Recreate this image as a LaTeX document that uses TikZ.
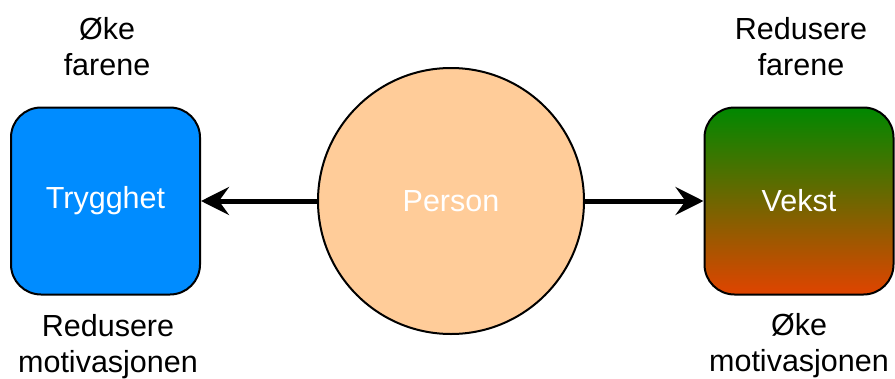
\documentclass[tikz,border=0pt]{standalone}
\usepackage{fontspec}
\setmainfont{Liberation Sans}
\usetikzlibrary{arrows.meta}

\definecolor{tryggblue}{RGB}{0,140,255}
\definecolor{personfill}{RGB}{255,204,153}
\definecolor{vekstgreen}{RGB}{0,136,0}
\definecolor{vekstred}{RGB}{224,68,0}

\tikzset{
  box/.style={draw, line width=2pt, rounded corners=30pt, minimum width=189pt,
    minimum height=187pt, text=white, inner sep=0pt},
  lbl/.style={align=center, anchor=base, inner sep=0pt},
}

\begin{document}
\begin{tikzpicture}[x=1pt, y=-1pt, >={Stealth[length=28pt, width=28pt, inset=10pt]},
    font=\fontsize{30.5}{36}\selectfont]
    \useasboundingbox (0,0) rectangle (895,378);
    % the three shapes
    \node[circle, draw, line width=2pt, fill=personfill, text=white,
      minimum size=266pt, inner sep=0pt] (person) at (451,201) {Person};
    \node[box, fill=tryggblue] (trygghet) at (105.5,201) {Trygghet};
    \node[box, top color=vekstgreen, bottom color=vekstred] (vekst) at (799,201) {Vekst};
    % arrows
    \draw[->, line width=5pt] (person) -- (trygghet);
    \draw[->, line width=5pt] (person) -- (vekst);
    % labels
    \node[lbl] (trygghetup) at (107,75) {Øke\\farene};
    \node[lbl] (trygghetdown) at (108,372) {Redusere\\motivasjonen};
    \node[lbl] (vekstup) at (801,75) {Redusere\\farene};
    \node[lbl] (vekstdown) at (799,371) {Øke\\motivasjonen};
  \end{tikzpicture}
\end{document}
